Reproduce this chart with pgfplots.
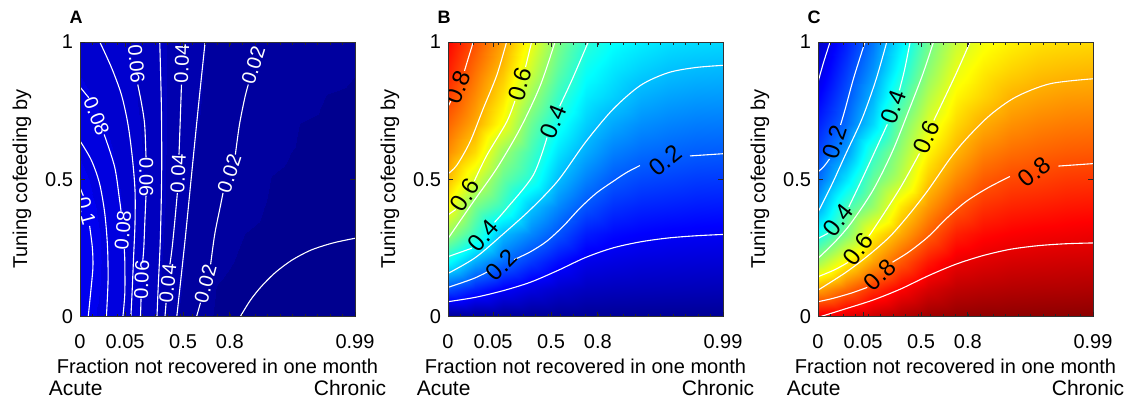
\documentclass[border=0pt]{standalone}
\usepackage{fontspec}
\setmainfont{Liberation Sans}
\usepackage{pgfplots}
\pgfplotsset{compat=1.18}
\pgfplotsset{
 colormap={mjet}{rgb=(0,0,0.5625) rgb=(0,0,0.625) rgb=(0,0,0.6875) rgb=(0,0,0.75) rgb=(0,0,0.8125) rgb=(0,0,0.875) rgb=(0,0,0.9375) rgb=(0,0,1)
 rgb=(0,0.0625,1) rgb=(0,0.125,1) rgb=(0,0.1875,1) rgb=(0,0.25,1) rgb=(0,0.3125,1) rgb=(0,0.375,1) rgb=(0,0.4375,1) rgb=(0,0.5,1)
 rgb=(0,0.5625,1) rgb=(0,0.625,1) rgb=(0,0.6875,1) rgb=(0,0.75,1) rgb=(0,0.8125,1) rgb=(0,0.875,1) rgb=(0,0.9375,1) rgb=(0,1,1)
 rgb=(0.0625,1,0.9375) rgb=(0.125,1,0.875) rgb=(0.1875,1,0.8125) rgb=(0.25,1,0.75) rgb=(0.3125,1,0.6875) rgb=(0.375,1,0.625) rgb=(0.4375,1,0.5625) rgb=(0.5,1,0.5)
 rgb=(0.5625,1,0.4375) rgb=(0.625,1,0.375) rgb=(0.6875,1,0.3125) rgb=(0.75,1,0.25) rgb=(0.8125,1,0.1875) rgb=(0.875,1,0.125) rgb=(0.9375,1,0.0625) rgb=(1,1,0)
 rgb=(1,0.9375,0) rgb=(1,0.875,0) rgb=(1,0.8125,0) rgb=(1,0.75,0) rgb=(1,0.6875,0) rgb=(1,0.625,0) rgb=(1,0.5625,0) rgb=(1,0.5,0)
 rgb=(1,0.4375,0) rgb=(1,0.375,0) rgb=(1,0.3125,0) rgb=(1,0.25,0) rgb=(1,0.1875,0) rgb=(1,0.125,0) rgb=(1,0.0625,0) rgb=(1,0,0)
 rgb=(0.9375,0,0) rgb=(0.875,0,0) rgb=(0.8125,0,0) rgb=(0.75,0,0) rgb=(0.6875,0,0) rgb=(0.625,0,0) rgb=(0.5625,0,0) rgb=(0.5,0,0)},
 panel/.style={
  anchor=south west,
  width=137.5pt, height=137.25pt, scale only axis,
  view={0}{90},
  xmin=0, xmax=1, ymin=0, ymax=1,
  axis on top,
  colormap name=mjet,
  point meta min=0, point meta max=1,
  xtick={0,0.164,0.375,0.545,1},
  xticklabels={0,0.05,0.5,0.8,0.99},
  minor xtick={0.0455,0.0909,0.1364,0.1818,0.2273,0.2727,0.3182,0.3636,0.4091,0.4545,0.5,0.5455,0.5909,0.6364,0.6818,0.7273,0.7727,0.8182,0.8636,0.9091,0.9545},
  ytick={0,0.5,1},
  yticklabels={0,0.5,1},
  ztick=\empty,
  tick align=inside,
  major tick length=2.5pt,
  minor tick length=1.5pt,
  every tick/.style={black!85, line width=0.4pt},
  axis line style={black!80, line width=0.5pt},
  /pgf/number format/assume math mode=true,
  tick label style={font=\fontsize{10}{12}\selectfont},
  xticklabel style={yshift=-5.5pt},
  label style={font=\fontsize{10.5}{12}\selectfont},
  every axis x label/.style={at={(axis description cs:0.5,-0.183)}, anchor=center},
  every axis y label/.style={at={(axis description cs:-0.211,0.5)}, anchor=center, rotate=90},
  xlabel={Fraction not recovered in one month},
  ylabel={Tuning cofeeding by},
 },
 cl/.style={white, line width=0.55pt, smooth, tension=0.5, mark=none},
}
\newcommand\blab[4]{\node[rotate=#3, inner sep=0pt, font=\fontsize{12}{12}\selectfont, text=black] at (axis cs:#1,#2) {#4};}
\newcommand\wlab[4]{\node[rotate=#3, inner sep=0pt, font=\fontsize{10}{10}\selectfont, text=white] at (axis cs:#1,#2) {#4};}
\newcommand\panelextras[2]{%
 \node[anchor=west, inner sep=0pt, font=\fontsize{10.5}{12}\selectfont] at (#1pt-15.8pt,8pt) {Acute};
 \node[anchor=east, inner sep=0pt, font=\fontsize{10.5}{12}\selectfont] at (#1pt+153.3pt,8pt) {Chronic};
 \node[inner sep=0pt, font=\bfseries\fontsize{9}{10}\selectfont] at (#1pt-2pt,193.25pt) {#2};
}
\begin{document}
\begin{tikzpicture}
\path[use as bounding box] (0,0) rectangle (562.5pt,202pt);
% ---------------- Panel A ----------------
\begin{axis}[panel, at={(40pt,43.75pt)}, colormap access=piecewise constant]
\addplot3[surf, shader=interp, mesh/cols=11] coordinates {
(0,0,0.102) (0.1,0,0.088) (0.2,0,0.066) (0.3,0,0.043) (0.4,0,0.023) (0.5,0,0.0141) (0.6,0,0.0098) (0.7,0,0.0088) (0.8,0,0.0078) (0.9,0,0.0069) (1,0,0.006)
(0,0.1,0.104) (0.1,0.1,0.090) (0.2,0.1,0.069) (0.3,0.1,0.045) (0.4,0.1,0.0257) (0.5,0.1,0.0152) (0.6,0.1,0.0116) (0.7,0.1,0.0093) (0.8,0.1,0.0085) (0.9,0.1,0.0078) (1,0.1,0.0072)
(0,0.2,0.105) (0.1,0.2,0.0906) (0.2,0.2,0.0708) (0.3,0.2,0.047) (0.4,0.2,0.0274) (0.5,0.2,0.0181) (0.6,0.2,0.0140) (0.7,0.2,0.0113) (0.8,0.2,0.0097) (0.9,0.2,0.0091) (1,0.2,0.0087)
(0,0.3,0.105) (0.1,0.3,0.090) (0.2,0.3,0.071) (0.3,0.3,0.048) (0.4,0.3,0.0287) (0.5,0.3,0.0196) (0.6,0.3,0.0156) (0.7,0.3,0.0143) (0.8,0.3,0.0130) (0.9,0.3,0.0116) (1,0.3,0.0102)
(0,0.4,0.102) (0.1,0.4,0.088) (0.2,0.4,0.0705) (0.3,0.4,0.049) (0.4,0.4,0.0296) (0.5,0.4,0.0209) (0.6,0.4,0.0172) (0.7,0.4,0.0150) (0.8,0.4,0.0137) (0.9,0.4,0.0124) (1,0.4,0.0111)
(0,0.5,0.098) (0.1,0.5,0.085) (0.2,0.5,0.0695) (0.3,0.5,0.0495) (0.4,0.5,0.0305) (0.5,0.5,0.0227) (0.6,0.5,0.0182) (0.7,0.5,0.0155) (0.8,0.5,0.0146) (0.9,0.5,0.0134) (1,0.5,0.0121)
(0,0.6,0.0924) (0.1,0.6,0.0813) (0.2,0.6,0.0677) (0.3,0.6,0.0495) (0.4,0.6,0.0331) (0.5,0.6,0.0241) (0.6,0.6,0.0190) (0.7,0.6,0.0166) (0.8,0.6,0.0152) (0.9,0.6,0.0142) (1,0.6,0.0131)
(0,0.7,0.0869) (0.1,0.7,0.0774) (0.2,0.7,0.0656) (0.3,0.7,0.0494) (0.4,0.7,0.0343) (0.5,0.7,0.0252) (0.6,0.7,0.0196) (0.7,0.7,0.0176) (0.8,0.7,0.0156) (0.9,0.7,0.0149) (1,0.7,0.0141)
(0,0.8,0.0818) (0.1,0.8,0.0742) (0.2,0.8,0.0636) (0.3,0.8,0.0493) (0.4,0.8,0.0352) (0.5,0.8,0.0261) (0.6,0.8,0.0200) (0.7,0.8,0.0184) (0.8,0.8,0.0169) (0.9,0.8,0.0155) (1,0.8,0.0151)
(0,0.9,0.077) (0.1,0.9,0.0715) (0.2,0.9,0.0616) (0.3,0.9,0.0491) (0.4,0.9,0.0361) (0.5,0.9,0.0270) (0.6,0.9,0.0214) (0.7,0.9,0.0190) (0.8,0.9,0.0178) (0.9,0.9,0.0167) (1,0.9,0.0158)
(0,1,0.073) (0.1,1,0.068) (0.2,1,0.060) (0.3,1,0.0488) (0.4,1,0.0367) (0.5,1,0.0276) (0.6,1,0.0224) (0.7,1,0.0195) (0.8,1,0.0184) (0.9,1,0.0174) (1,1,0.0165)
};
\addplot[cl] coordinates {(0,0.47) (0.012,0.44)};
\addplot[cl] coordinates {(0.035,0.33) (0.045,0.25) (0.047,0.18) (0.04,0.1) (0.03,0)};
\addplot[cl] coordinates {(0,0.64) (0.041,0.57) (0.071,0.485) (0.09,0.376) (0.1,0.255) (0.102,0.13) (0.096,0)};
\addplot[cl] coordinates {(0,0.836) (0.032,0.797)};
\addplot[cl] coordinates {(0.088,0.663) (0.126,0.545) (0.144,0.424) (0.149,0.385)};
\addplot[cl] coordinates {(0.161,0.245) (0.163,0.2) (0.163,0.085) (0.156,0)};
\addplot[cl] coordinates {(0.072,1) (0.114,0.908) (0.15,0.81) (0.174,0.703) (0.19,0.582) (0.2,0.46) (0.2,0.34) (0.195,0.22) (0.19,0.1) (0.185,0)};
\addplot[cl] coordinates {(0.21,0.845) (0.223,0.78) (0.235,0.7) (0.24,0.58)};
\addplot[cl] coordinates {(0.24,0.44) (0.236,0.35) (0.232,0.25) (0.228,0.2)};
\addplot[cl] coordinates {(0.222,0.065) (0.22,0)};
\addplot[cl] coordinates {(0.29,1) (0.296,0.76) (0.297,0.52) (0.292,0.28) (0.284,0.1) (0.28,0)};
\addplot[cl] coordinates {(0.369,0.845) (0.364,0.7) (0.36,0.59)};
\addplot[cl] coordinates {(0.354,0.45) (0.345,0.35) (0.335,0.25) (0.327,0.19)};
\addplot[cl] coordinates {(0.313,0.05) (0.309,0)};
\addplot[cl] coordinates {(0.455,1) (0.43,0.76) (0.406,0.52) (0.382,0.278) (0.352,0)};
\addplot[cl] coordinates {(0.612,0.845) (0.6,0.8) (0.58,0.7) (0.565,0.59)};
\addplot[cl] coordinates {(0.52,0.45) (0.51,0.4) (0.49,0.3) (0.475,0.19)};
\addplot[cl] coordinates {(0.438,0.05) (0.424,0)};
\addplot[cl] coordinates {(0.583,0) (0.62,0.06) (0.66,0.11) (0.71,0.16) (0.77,0.205) (0.84,0.242) (0.92,0.268) (1,0.285)};
\wlab{0.022}{0.385}{-75}{0.1}
\wlab{0.06}{0.73}{-68}{0.08}
\wlab{0.156}{0.315}{85}{0.08}
\wlab{0.205}{0.92}{-85}{0.06}
\wlab{0.241}{0.509}{-90}{0.06}
\wlab{0.224}{0.133}{88}{0.06}
\wlab{0.37}{0.92}{88}{0.04}
\wlab{0.357}{0.52}{87}{0.04}
\wlab{0.319}{0.12}{84}{0.04}
\wlab{0.63}{0.915}{73}{0.02}
\wlab{0.543}{0.52}{72}{0.02}
\wlab{0.456}{0.12}{75}{0.02}
\end{axis}
\panelextras{40}{A}
% ---------------- Panel B ----------------
\begin{axis}[panel, at={(224pt,43.75pt)}, colormap access=map]
\addplot3[surf, shader=interp, mesh/cols=11] coordinates {
(0,0,0.000) (0.1,0,0.005) (0.2,0,0.005) (0.3,0,0.005) (0.4,0,0.005) (0.5,0,0.005) (0.6,0,0.005) (0.7,0,0.005) (0.8,0,0.005) (0.9,0,0.005) (1,0,0.005)
(0,0.1,0.188) (0.1,0.1,0.145) (0.2,0.1,0.106) (0.3,0.1,0.081) (0.4,0.1,0.062) (0.5,0.1,0.049) (0.6,0.1,0.045) (0.7,0.1,0.043) (0.8,0.1,0.042) (0.9,0.1,0.041) (1,0.1,0.040)
(0,0.2,0.370) (0.1,0.2,0.281) (0.2,0.2,0.216) (0.3,0.2,0.166) (0.4,0.2,0.122) (0.5,0.2,0.089) (0.6,0.2,0.081) (0.7,0.2,0.075) (0.8,0.2,0.073) (0.9,0.2,0.071) (1,0.2,0.070)
(0,0.3,0.518) (0.1,0.3,0.420) (0.2,0.3,0.297) (0.3,0.3,0.246) (0.4,0.3,0.193) (0.5,0.3,0.138) (0.6,0.3,0.119) (0.7,0.3,0.110) (0.8,0.3,0.105) (0.9,0.3,0.102) (1,0.3,0.100)
(0,0.4,0.617) (0.1,0.4,0.483) (0.2,0.4,0.414) (0.3,0.4,0.307) (0.4,0.4,0.247) (0.5,0.4,0.192) (0.6,0.4,0.159) (0.7,0.4,0.146) (0.8,0.4,0.141) (0.9,0.4,0.136) (1,0.4,0.134)
(0,0.5,0.686) (0.1,0.5,0.578) (0.2,0.5,0.466) (0.3,0.5,0.398) (0.4,0.5,0.300) (0.5,0.5,0.240) (0.6,0.5,0.200) (0.7,0.5,0.183) (0.8,0.5,0.177) (0.9,0.5,0.170) (1,0.5,0.168)
(0,0.6,0.732) (0.1,0.6,0.655) (0.2,0.6,0.520) (0.3,0.6,0.433) (0.4,0.6,0.340) (0.5,0.6,0.282) (0.6,0.6,0.239) (0.7,0.6,0.219) (0.8,0.6,0.211) (0.9,0.6,0.204) (1,0.6,0.202)
(0,0.7,0.772) (0.1,0.7,0.705) (0.2,0.7,0.608) (0.3,0.7,0.472) (0.4,0.7,0.381) (0.5,0.7,0.317) (0.6,0.7,0.278) (0.7,0.7,0.253) (0.8,0.7,0.242) (0.9,0.7,0.235) (1,0.7,0.233)
(0,0.8,0.810) (0.1,0.8,0.734) (0.2,0.8,0.645) (0.3,0.8,0.523) (0.4,0.8,0.421) (0.5,0.8,0.347) (0.6,0.8,0.318) (0.7,0.8,0.286) (0.8,0.8,0.273) (0.9,0.8,0.266) (1,0.8,0.264)
(0,0.9,0.845) (0.1,0.9,0.763) (0.2,0.9,0.682) (0.3,0.9,0.571) (0.4,0.9,0.461) (0.5,0.9,0.377) (0.6,0.9,0.343) (0.7,0.9,0.320) (0.8,0.9,0.305) (0.9,0.9,0.298) (1,0.9,0.295)
(0,1,0.870) (0.1,1,0.793) (0.2,1,0.711) (0.3,1,0.604) (0.4,1,0.491) (0.5,1,0.407) (0.6,1,0.370) (0.7,1,0.350) (0.8,1,0.335) (0.9,1,0.330) (1,1,0.327)
};
\addplot[cl] coordinates {(0,0.765) (0.01,0.785)};
\addplot[cl] coordinates {(0.06,0.895) (0.075,0.945) (0.092,1)};
\addplot[cl] coordinates {(0,0.52) (0.032,0.551) (0.08,0.636) (0.128,0.757) (0.177,0.878) (0.213,1)};
\addplot[cl] coordinates {(0.282,0.909) (0.304,1)};
\addplot[cl] coordinates {(0.096,0.494) (0.141,0.587) (0.213,0.708) (0.243,0.785)};
\addplot[cl] coordinates {(0,0.37) (0.028,0.39)};
\addplot[cl] coordinates {(0,0.284) (0.092,0.418) (0.177,0.539) (0.262,0.684) (0.335,0.84) (0.389,1)};
\addplot[cl] coordinates {(0.406,0.766) (0.45,0.86) (0.51,1)};
\addplot[cl] coordinates {(0.169,0.343) (0.213,0.393) (0.31,0.515) (0.36,0.652)};
\addplot[cl] coordinates {(0,0.218) (0.087,0.249)};
\addplot[cl] coordinates {(0,0.157) (0.1,0.215) (0.2,0.3) (0.3,0.39) (0.4,0.495) (0.5,0.635) (0.6,0.755) (0.7,0.842) (0.8,0.888) (0.9,0.907) (1,0.915)};
\addplot[cl] coordinates {(0.88,0.585) (1,0.593)};
\addplot[cl] coordinates {(0.24,0.207) (0.3,0.236) (0.36,0.275) (0.42,0.33) (0.48,0.395) (0.54,0.45) (0.6,0.492) (0.65,0.525) (0.698,0.55)};
\addplot[cl] coordinates {(0,0.106) (0.092,0.138) (0.15,0.166)};
\addplot[cl] coordinates {(0,0.054) (0.1,0.07) (0.2,0.094) (0.3,0.125) (0.4,0.168) (0.5,0.215) (0.6,0.25) (0.7,0.272) (0.8,0.286) (0.9,0.294) (1,0.299)};
\blab{0.036}{0.836}{68}{0.8}
\blab{0.262}{0.847}{73}{0.6}
\blab{0.383}{0.709}{68}{0.4}
\blab{0.062}{0.442}{57}{0.6}
\blab{0.128}{0.296}{49}{0.4}
\blab{0.195}{0.187}{45}{0.2}
\blab{0.79}{0.568}{39}{0.2}
\end{axis}
\panelextras{224}{B}
% ---------------- Panel C ----------------
\begin{axis}[panel, at={(409pt,43.75pt)}, colormap access=map]
\addplot3[surf, shader=interp, mesh/cols=11] coordinates {
(0,0,0.898) (0.1,0,0.907) (0.2,0,0.929) (0.3,0,0.952) (0.4,0,0.972) (0.5,0,0.981) (0.6,0,0.985) (0.7,0,0.986) (0.8,0,0.987) (0.9,0,0.988) (1,0,0.989)
(0,0.1,0.708) (0.1,0.1,0.765) (0.2,0.1,0.825) (0.3,0.1,0.874) (0.4,0.1,0.912) (0.5,0.1,0.936) (0.6,0.1,0.943) (0.7,0.1,0.948) (0.8,0.1,0.950) (0.9,0.1,0.951) (1,0.1,0.953)
(0,0.2,0.525) (0.1,0.2,0.628) (0.2,0.2,0.713) (0.3,0.2,0.787) (0.4,0.2,0.851) (0.5,0.2,0.893) (0.6,0.2,0.905) (0.7,0.2,0.914) (0.8,0.2,0.917) (0.9,0.2,0.920) (1,0.2,0.921)
(0,0.3,0.377) (0.1,0.3,0.490) (0.2,0.3,0.632) (0.3,0.3,0.706) (0.4,0.3,0.778) (0.5,0.3,0.842) (0.6,0.3,0.865) (0.7,0.3,0.876) (0.8,0.3,0.882) (0.9,0.3,0.886) (1,0.3,0.890)
(0,0.4,0.281) (0.1,0.4,0.429) (0.2,0.4,0.516) (0.3,0.4,0.644) (0.4,0.4,0.723) (0.5,0.4,0.787) (0.6,0.4,0.824) (0.7,0.4,0.839) (0.8,0.4,0.845) (0.9,0.4,0.852) (1,0.4,0.855)
(0,0.5,0.216) (0.1,0.5,0.337) (0.2,0.5,0.465) (0.3,0.5,0.553) (0.4,0.5,0.670) (0.5,0.5,0.737) (0.6,0.5,0.782) (0.7,0.5,0.802) (0.8,0.5,0.808) (0.9,0.5,0.817) (1,0.5,0.820)
(0,0.6,0.176) (0.1,0.6,0.264) (0.2,0.6,0.412) (0.3,0.6,0.518) (0.4,0.6,0.627) (0.5,0.6,0.694) (0.6,0.6,0.742) (0.7,0.6,0.764) (0.8,0.6,0.774) (0.9,0.6,0.782) (1,0.6,0.785)
(0,0.7,0.141) (0.1,0.7,0.218) (0.2,0.7,0.326) (0.3,0.7,0.479) (0.4,0.7,0.585) (0.5,0.7,0.658) (0.6,0.7,0.702) (0.7,0.7,0.729) (0.8,0.7,0.742) (0.9,0.7,0.750) (1,0.7,0.753)
(0,0.8,0.108) (0.1,0.8,0.192) (0.2,0.8,0.291) (0.3,0.8,0.428) (0.4,0.8,0.544) (0.5,0.8,0.627) (0.6,0.8,0.662) (0.7,0.8,0.696) (0.8,0.8,0.710) (0.9,0.8,0.719) (1,0.8,0.721)
(0,0.9,0.078) (0.1,0.9,0.166) (0.2,0.9,0.256) (0.3,0.9,0.380) (0.4,0.9,0.503) (0.5,0.9,0.596) (0.6,0.9,0.636) (0.7,0.9,0.661) (0.8,0.9,0.677) (0.9,0.9,0.685) (1,0.9,0.689)
(0,1,0.057) (0.1,1,0.139) (0.2,1,0.229) (0.3,1,0.347) (0.4,1,0.472) (0.5,1,0.565) (0.6,1,0.608) (0.7,1,0.631) (0.8,1,0.647) (0.9,1,0.653) (1,1,0.657)
};
\addplot[cl] coordinates {(0,0.854) (0.02,0.925) (0.044,1)};
\addplot[cl] coordinates {(0.082,0.698) (0.1,0.76) (0.13,0.87) (0.171,1)};
\addplot[cl] coordinates {(0,0.527) (0.02,0.545) (0.042,0.574)};
\addplot[cl] coordinates {(0,0.38) (0.05,0.48) (0.1,0.59) (0.16,0.72) (0.21,0.86) (0.25,1)};
\addplot[cl] coordinates {(0.296,0.824) (0.315,0.9) (0.335,1)};
\addplot[cl] coordinates {(0.112,0.399) (0.16,0.5) (0.22,0.63) (0.252,0.70)};
\addplot[cl] coordinates {(0,0.284) (0.036,0.303)};
\addplot[cl] coordinates {(0,0.212) (0.06,0.27) (0.12,0.34) (0.2,0.46) (0.27,0.6) (0.33,0.75) (0.38,0.88) (0.42,1)};
\addplot[cl] coordinates {(0.421,0.714) (0.5,0.88) (0.553,1)};
\addplot[cl] coordinates {(0.185,0.293) (0.22,0.345) (0.3,0.47) (0.369,0.594)};
\addplot[cl] coordinates {(0,0.145) (0.06,0.17) (0.109,0.197)};
\addplot[cl] coordinates {(0,0.096) (0.1,0.16) (0.18,0.22) (0.26,0.29) (0.33,0.37) (0.4,0.46) (0.48,0.575) (0.54,0.648) (0.625,0.733) (0.72,0.8) (0.844,0.848) (1,0.866)};
\addplot[cl] coordinates {(0.874,0.548) (1,0.557)};
\addplot[cl] coordinates {(0.271,0.198) (0.33,0.235) (0.4,0.29) (0.47,0.36) (0.54,0.42) (0.62,0.47) (0.698,0.51)};
\addplot[cl] coordinates {(0,0.054) (0.05,0.065) (0.12,0.085) (0.179,0.106)};
\addplot[cl] coordinates {(0.01,0) (0.1,0.028) (0.2,0.06) (0.3,0.1) (0.4,0.148) (0.5,0.19) (0.6,0.222) (0.7,0.245) (0.8,0.258) (0.9,0.265) (1,0.268)};
\blab{0.062}{0.636}{72}{0.2}
\blab{0.274}{0.763}{70}{0.4}
\blab{0.395}{0.654}{67}{0.6}
\blab{0.074}{0.351}{52}{0.4}
\blab{0.147}{0.245}{52}{0.6}
\blab{0.225}{0.152}{45}{0.8}
\blab{0.787}{0.527}{40}{0.8}
\end{axis}
\panelextras{409}{C}
\end{tikzpicture}
\end{document}
